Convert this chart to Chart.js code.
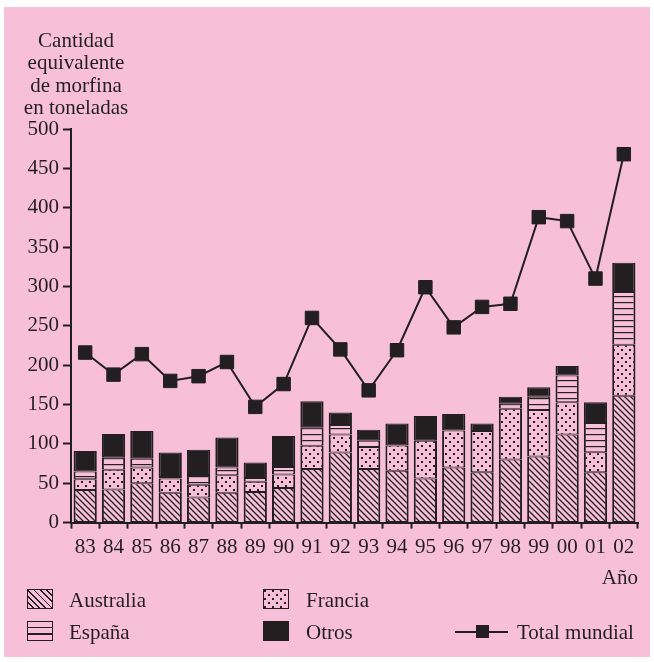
<!DOCTYPE html>
<html>
<head>
<meta charset="utf-8">
<script src="https://cdn.jsdelivr.net/npm/chart.js@4.4.1/dist/chart.umd.min.js"></script>
<style>
  body { margin: 0; background: #ffffff; }
  #wrap { position: relative; width: 654px; height: 662px; font-family: "Liberation Serif", "DejaVu Serif", serif; color: #231f20; }
  #bg { position: absolute; left: 4px; top: 7px; width: 646px; height: 650px; background: #f7c0d8; }
  #myChart { position: absolute; left: 0; top: 0; }
  .txt { position: absolute; font-size: 21px; line-height: 24px; white-space: nowrap; }
  .sw { position: absolute; width: 24px; height: 18px; border: 1.5px solid #231f20; }
</style>
</head>
<body>
<div id="wrap">
  <div id="bg"></div>
  <canvas id="myChart" width="654" height="662"></canvas>
  <div class="txt" style="left:0; top:29px; width:152px; text-align:center; line-height:22.3px;">Cantidad<br>equivalente<br>de morfina<br>en toneladas</div>
  <div class="txt" style="right:16px; top:565px;">Año</div>

  <div class="sw" style="left:27px; top:589px; background: repeating-linear-gradient(45deg, #f7c0d8 0 3.2px, #231f20 3.2px 4.4px);"></div>
  <div class="txt" style="left:69px; top:588px;">Australia</div>
  <div class="sw" style="left:263px; top:589px; background-color:#f7c0d8; background-image: radial-gradient(#231f20 0.9px, transparent 1.3px), radial-gradient(#231f20 0.9px, transparent 1.3px); background-size: 8px 8px; background-position: 1px 1px, 5px 5px;"></div>
  <div class="txt" style="left:306px; top:588px;">Francia</div>

  <div class="sw" style="left:27px; top:621px; background: repeating-linear-gradient(to bottom, #f7c0d8 0 5px, #231f20 5px 6.3px);"></div>
  <div class="txt" style="left:69px; top:620px;">España</div>
  <div class="sw" style="left:263px; top:621px; background:#231f20;"></div>
  <div class="txt" style="left:306px; top:620px;">Otros</div>

  <div style="position:absolute; left:455px; top:631px; width:53px; height:2px; background:#231f20;"></div>
  <div style="position:absolute; left:476px; top:625px; width:13px; height:13px; background:#231f20;"></div>
  <div class="txt" style="left:517px; top:620px;">Total mundial</div>
</div>

<script>
const years = ["83", "84", "85", "86", "87", "88", "89", "90", "91", "92",
  "93", "94", "95", "96", "97", "98", "99", "00", "01", "02"];
const australia = [41.5, 42, 50, 38, 32, 38, 39, 44, 68, 89, 68, 66, 56, 70, 64, 80, 84, 112, 64, 161];
const francia = [13.5, 25, 20, 18, 16, 22, 13, 17, 29.5, 23, 28, 32, 48, 47, 52.5, 64.5, 59, 41, 25.5, 65];
const espana = [10, 15.5, 11, 2, 12.5, 10, 4.5, 9.5, 23.5, 12, 8, 0, 0, 0, 0, 6.5, 17, 34, 37, 67];
const otros = [26, 30, 35.5, 31, 32, 38, 20, 39.5, 33, 16, 14, 28, 31.5, 21, 9.5, 9, 12, 12, 26.5, 37];
const totalMundial = [216, 188, 214, 180, 186, 204, 147, 176, 260, 220, 168, 219, 299, 248, 274, 278, 388, 383, 310, 468];
const yTicks = [0, 50, 100, 150, 200, 250, 300, 350, 400, 450, 500];

const dark = "#231f20";
const pink = "#f7c0d8";
const serif = "'Liberation Serif', 'DejaVu Serif', serif";

function makePattern(kind) {
  const c = document.createElement("canvas");
  const size = kind === "dots" ? 8 : 6;
  c.width = size;
  c.height = size;
  const g = c.getContext("2d");
  g.fillStyle = pink;
  g.fillRect(0, 0, size, size);
  g.strokeStyle = dark;
  g.fillStyle = dark;
  if (kind === "hatch") {
    g.lineWidth = 1.3;
    g.beginPath();
    g.moveTo(-1, -1); g.lineTo(size + 1, size + 1);
    g.moveTo(-1, size - 1); g.lineTo(1, size + 1);
    g.moveTo(size - 1, -1); g.lineTo(size + 1, 1);
    g.stroke();
  } else if (kind === "dots") {
    g.fillRect(1, 1, 2, 2);
    g.fillRect(5, 5, 2, 2);
  } else {
    g.fillRect(0, 2, size, 1.2);
  }
  return g.createPattern(c, "repeat");
}

const ctx = document.getElementById("myChart").getContext("2d");

const barBorder = { top: 1, bottom: 1, left: 2, right: 2 };
function barSet(label, data, bg) {
  return {
    type: "bar",
    label: label,
    data: data,
    backgroundColor: bg,
    borderColor: dark,
    borderWidth: barBorder,
    borderSkipped: false,
    stack: "paises",
    order: 1,
    barPercentage: 0.82,
    categoryPercentage: 1,
  };
}

new Chart(ctx, {
  data: {
    labels: years,
    datasets: [
      barSet("Australia", australia, makePattern("hatch")),
      barSet("Francia", francia, makePattern("dots")),
      barSet("España", espana, makePattern("lines")),
      barSet("Otros", otros, dark),
      {
        type: "line",
        label: "Total mundial",
        data: totalMundial,
        stack: "total",
        order: 0,
        borderColor: dark,
        borderWidth: 2,
        pointStyle: "rect",
        pointRadius: 9.5,
        pointBackgroundColor: dark,
        pointBorderColor: dark,
        pointBorderWidth: 1,
        tension: 0,
      },
    ],
  },
  options: {
    responsive: false,
    animation: false,
    layout: { padding: { top: 129, right: 16, bottom: 0, left: 0 } },
    plugins: {
      legend: { display: false },
      tooltip: { enabled: false },
    },
    scales: {
      x: {
        stacked: true,
        offset: true,
        grid: {
          offset: true,
          drawOnChartArea: false,
          drawTicks: true,
          tickLength: 6,
          tickWidth: 2,
          color: dark,
        },
        border: { color: dark, width: 2 },
        ticks: {
          color: dark,
          padding: 6,
          maxRotation: 0,
          autoSkip: false,
          font: { family: serif, size: 21 },
        },
        afterFit: (scale) => {
          scale.height = 662 - 522.6;
        },
      },
      y: {
        stacked: true,
        min: 0,
        max: 500,
        afterBuildTicks: (scale) => {
          scale.ticks = yTicks.map((v) => ({ value: v }));
        },
        grid: {
          drawOnChartArea: false,
          drawTicks: true,
          tickLength: 8,
          tickWidth: 2,
          color: dark,
        },
        border: { color: dark, width: 2 },
        ticks: {
          color: dark,
          padding: 4,
          font: { family: serif, size: 21 },
        },
        afterFit: (scale) => {
          scale.width = 71;
        },
      },
    },
  },
});
</script>
</body>
</html>
